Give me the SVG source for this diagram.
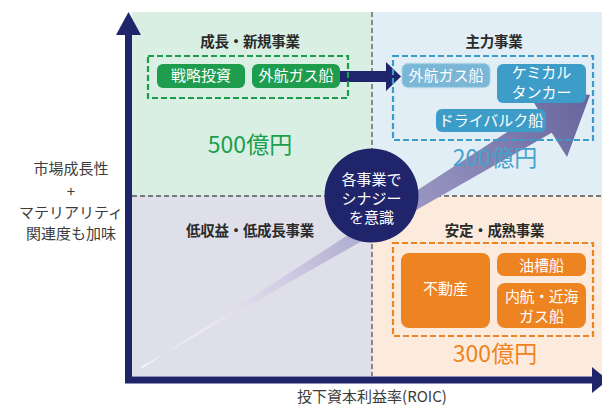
<svg xmlns="http://www.w3.org/2000/svg" width="602" height="405" viewBox="0 0 602 405">
<defs>
<style>
text{font-family:"Noto Sans CJK JP","Noto Sans",sans-serif;text-anchor:middle}
.lbl{font-size:15px;fill:#3c3c3c}
.ttl{font-size:14.5px;font-weight:bold;fill:#2a2a2a;letter-spacing:-0.3px}
.wt{font-size:15px;fill:#fff}
.amt{font-size:23px}
.div{stroke:#555;stroke-width:1.3;stroke-dasharray:5 3;fill:none}
.navy{fill:#1f246b}
</style>
<linearGradient id="g" gradientUnits="userSpaceOnUse" x1="141" y1="368" x2="590" y2="95">
<stop offset="0" stop-color="#ffffff" stop-opacity="0.9"/>
<stop offset="0.3" stop-color="#d4d0e6"/>
<stop offset="0.6" stop-color="#9a97c2"/>
<stop offset="1" stop-color="#66659c"/>
</linearGradient>
</defs>
<rect width="602" height="405" fill="#fff"/>
<g id="quadrants">
<rect x="132" y="12" width="240" height="184" fill="#d9efe3"/>
<rect x="372" y="12" width="230" height="184" fill="#e1eef5"/>
<rect x="132" y="196" width="240" height="180" fill="#dedfe9"/>
<rect x="372" y="196" width="230" height="180" fill="#fcebdc"/>
<line class="div" x1="372" y1="12" x2="372" y2="376"/>
<line class="div" x1="132" y1="196" x2="602" y2="196"/>
</g>
<g id="connectors">
<polygon fill="url(#g)" points="141,367 551.7,132.8 567,157 590,95 524,87 539.3,111.2 141,369"/>
<rect class="navy" x="338" y="71" width="50" height="11"/>
<polygon class="navy" points="386,62 401,76.5 386,91"/>
</g>
<g id="axes">
<rect class="navy" x="125" y="30" width="7" height="353"/>
<polygon class="navy" points="128.5,12 116,35 141,35"/>
<rect class="navy" x="125" y="376.5" width="470" height="7"/>
<polygon class="navy" points="592,367 592,393 608,380"/>
<text class="lbl" x="71" y="173.5">市場成長性</text>
<text class="lbl" x="71" y="197">+</text>
<text class="lbl" x="71" y="217.5">マテリアリティ</text>
<text class="lbl" x="71" y="238.5">関連度も加味</text>
<text class="lbl" x="372" y="401.5">投下資本利益率(ROIC)</text>
</g>
<g id="growth">
<text class="ttl" x="250" y="47">成長・新規事業</text>
<rect x="148" y="56" width="200" height="42" fill="none" stroke="#1a9e4b" stroke-width="2.2" stroke-dasharray="6 3"/>
<rect x="157" y="64" width="88" height="24" rx="6" fill="#1f9d4f"/>
<text class="wt" x="201" y="81">戦略投資</text>
<rect x="252" y="64" width="88" height="24" rx="6" fill="#1f9d4f"/>
<text class="wt" x="296" y="81">外航ガス船</text>
<text class="amt" x="250" y="153" fill="#1a9e4b">500億円</text>
</g>
<g id="core">
<text class="ttl" x="494" y="47">主力事業</text>
<rect x="393" y="56" width="200" height="84" fill="none" stroke="#3a9ccb" stroke-width="2.2" stroke-dasharray="6 3"/>
<rect x="402" y="63.5" width="88" height="24" rx="6" fill="#7ab6d6" stroke="#a8d2e8" stroke-width="1.5" stroke-dasharray="3 2"/>
<text class="wt" x="446" y="81">外航ガス船</text>
<rect x="497" y="64" width="89" height="39" rx="6" fill="#3e9dc8"/>
<text class="wt" x="541.5" y="78">ケミカル</text>
<text class="wt" x="541.5" y="98">タンカー</text>
<rect x="436" y="109" width="110" height="23" rx="6" fill="#3e9dc8"/>
<text class="wt" x="491" y="125.5">ドライバルク船</text>
<text class="amt" x="495" y="166" fill="#45a2cb">200億円</text>
</g>
<g id="low">
<text class="ttl" x="250" y="236">低収益・低成長事業</text>
</g>
<g id="stable">
<text class="ttl" x="494.5" y="236">安定・成熟事業</text>
<rect x="393" y="243" width="200" height="93" fill="none" stroke="#ee8421" stroke-width="2.2" stroke-dasharray="6 3"/>
<rect x="401" y="253" width="89" height="75" rx="8" fill="#ee8421"/>
<text class="wt" x="445.5" y="293.5">不動産</text>
<rect x="497" y="253" width="89" height="23" rx="7" fill="#ee8421"/>
<text class="wt" x="541.5" y="271">油槽船</text>
<rect x="497" y="283" width="89" height="45" rx="8" fill="#ee8421"/>
<text class="wt" x="541.5" y="301.5" style="letter-spacing:-0.4px">内航・近海</text>
<text class="wt" x="541.5" y="321.5">ガス船</text>
<text class="amt" x="495" y="362" fill="#ee8421">300億円</text>
</g>
<g id="synergy">
<circle class="navy" cx="371.5" cy="195.5" r="47"/>
<text class="wt" x="371.5" y="184.5">各事業で</text>
<text class="wt" x="371.5" y="203.5">シナジー</text>
<text class="wt" x="371.5" y="222.5">を意識</text>
</g>
</svg>
